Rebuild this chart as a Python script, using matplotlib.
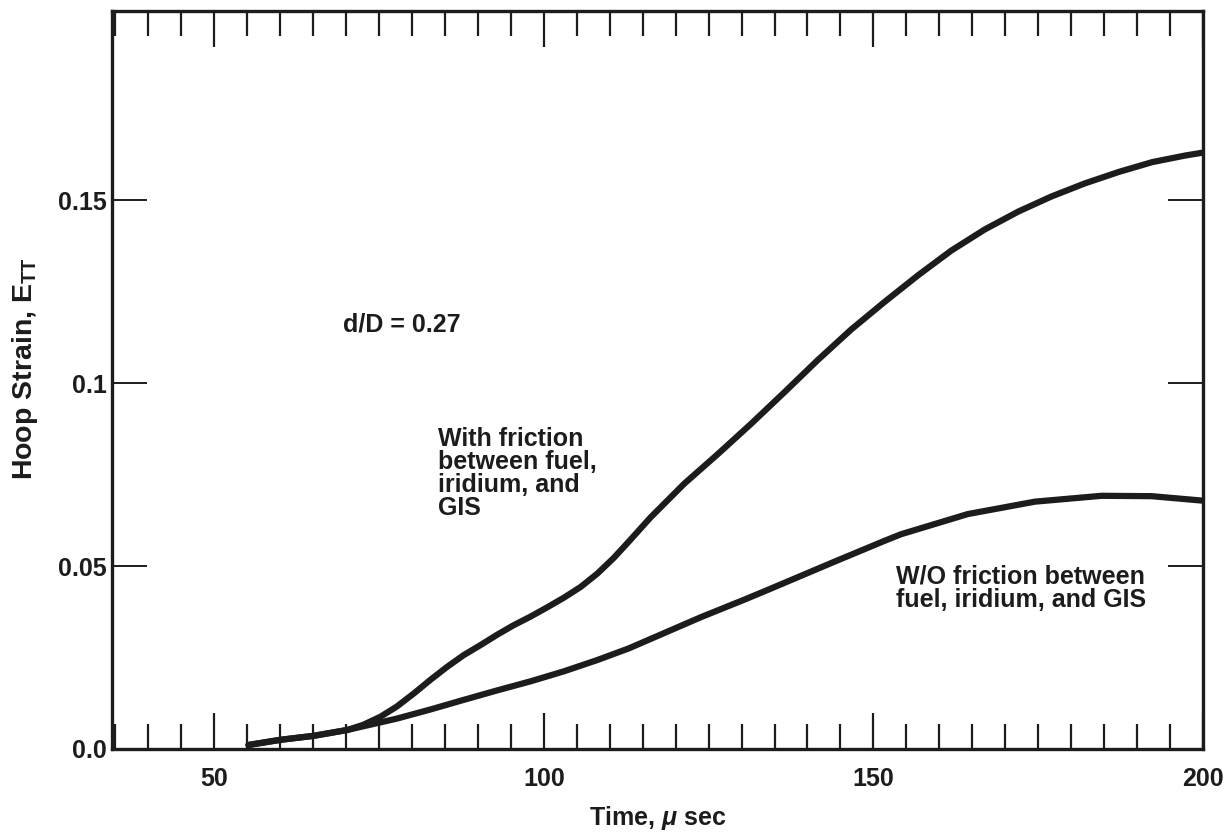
import matplotlib
matplotlib.use("Agg")
import matplotlib.pyplot as plt
from matplotlib.ticker import MultipleLocator

# ---- data ----
time_with = [55.2, 60.0, 65.1, 70.2, 72.6, 75.2, 77.7, 80.3, 82.8, 85.3, 87.8,
             90.4, 92.9, 95.4, 98.0, 100.5, 103.0, 105.6, 108.1, 110.6, 112.9,
             116.2, 121.3, 126.4, 131.4, 136.5, 141.5, 146.6, 151.7, 156.8,
             161.8, 166.9, 172.0, 177.0, 182.1, 187.2, 192.3, 197.3, 200.0]
strain_with = [0.0011, 0.0025, 0.0036, 0.0052, 0.0066, 0.0088, 0.0116, 0.0152,
               0.0189, 0.0224, 0.0256, 0.0284, 0.0312, 0.0338, 0.0362, 0.0387,
               0.0413, 0.0443, 0.0479, 0.0522, 0.0567, 0.0633, 0.0725, 0.0806,
               0.0888, 0.0975, 0.1062, 0.1146, 0.1222, 0.1295, 0.1362, 0.1420,
               0.1469, 0.1510, 0.1546, 0.1577, 0.1604, 0.1622, 0.1630]

time_wo = [55.2, 60.0, 65.1, 70.2, 72.6, 77.7, 82.8, 87.8, 92.9, 98.0, 103.0,
           108.1, 112.9, 123.8, 130.4, 134.0, 144.1, 151.7, 154.2, 164.3,
           174.5, 184.6, 192.2, 199.8]
strain_wo = [0.0011, 0.0025, 0.0036, 0.0052, 0.0062, 0.0083, 0.0108, 0.0134,
             0.0160, 0.0185, 0.0212, 0.0243, 0.0275, 0.0360, 0.0408, 0.0435,
             0.0512, 0.0569, 0.0587, 0.0642, 0.0676, 0.0692, 0.0691, 0.0679]

x_major_ticks = [50, 100, 150, 200]
x_tick_labels = ["50", "100", "150", "200"]
y_major_ticks = [0.0, 0.05, 0.1, 0.15]
y_tick_labels = ["0.0", "0.05", "0.1", "0.15"]

label_with = "With friction\nbetween fuel,\niridium, and\nGIS"
label_wo = "W/O friction between\nfuel, iridium, and GIS"
label_ratio = "d/D = 0.27"
x_title = r"Time, $\mu$ sec"
y_title = r"Hoop Strain, E$_{\mathregular{TT}}$"

# ---- styling ----
plt.rcParams["font.family"] = ["Liberation Sans", "DejaVu Sans"]
plt.rcParams["font.weight"] = "bold"
plt.rcParams["mathtext.fontset"] = "custom"
plt.rcParams["mathtext.it"] = "Liberation Sans:italic:bold"
plt.rcParams["mathtext.rm"] = "Liberation Sans:bold"

ink = "#1c1c1c"

fig = plt.figure(figsize=(12.32, 8.35), dpi=100)
ax = fig.add_axes([112 / 1232, 1 - 749 / 835, (1203 - 112) / 1232, (749 - 11) / 835])

ax.plot(time_with, strain_with, color=ink, lw=4.5, solid_capstyle="round",
        solid_joinstyle="round")
ax.plot(time_wo, strain_wo, color=ink, lw=4.5, solid_capstyle="round",
        solid_joinstyle="round")

ax.set_xlim(34.5, 200)
ax.set_ylim(0, 0.2017)

ax.set_xticks(x_major_ticks)
ax.set_xticklabels(x_tick_labels)
ax.xaxis.set_minor_locator(MultipleLocator(5))
ax.set_yticks(y_major_ticks)
ax.set_yticklabels(y_tick_labels)

for s in ax.spines.values():
    s.set_linewidth(2.4)
    s.set_color(ink)

ax.tick_params(axis="x", which="major", direction="in", top=True, bottom=True,
               length=26, width=1.6, color=ink, labelsize=18, pad=13,
               labelcolor=ink)
ax.tick_params(axis="x", which="minor", direction="in", top=True, bottom=True,
               length=18, width=1.6, color=ink)
ax.tick_params(axis="y", which="major", direction="in", left=True, right=True,
               length=25, width=1.4, color=ink, labelsize=18, pad=4,
               labelcolor=ink)

ax.set_xlabel(x_title, fontsize=18, fontweight="bold", color=ink)
ax.xaxis.set_label_coords(0.5, -0.075)
ax.set_ylabel(y_title, fontsize=20.5, fontweight="bold", color=ink)
ax.yaxis.set_label_coords(-0.066, 0.515)

ax.text(69.6, 0.1159, label_ratio, fontsize=18, fontweight="bold", color=ink,
        ha="left", va="center")
ax.text(84.0, 0.088, label_with, fontsize=18, fontweight="bold", color=ink,
        ha="left", va="top", linespacing=0.95)
ax.text(153.4, 0.0503, label_wo, fontsize=18, fontweight="bold", color=ink,
        ha="left", va="top", linespacing=0.95)

fig.savefig("out.png", dpi=100, facecolor="white")
